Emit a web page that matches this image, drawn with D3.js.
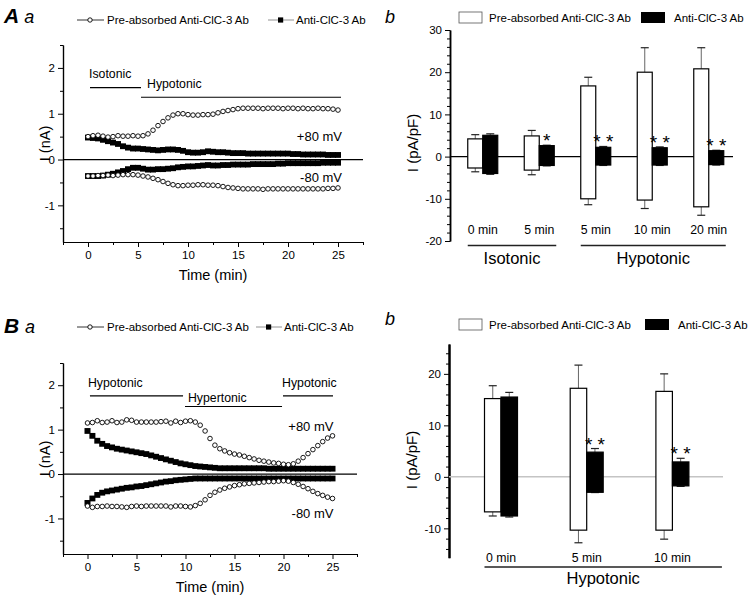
<!DOCTYPE html>
<html><head><meta charset="utf-8">
<script src="https://cdn.jsdelivr.net/npm/d3@7"></script>
<style>
body{margin:0;background:#fff;}
svg{display:block;font-family:Arial,"Liberation Sans",Helvetica,sans-serif;}
</style></head><body>
<svg id="c" width="750" height="602"></svg>
<script>
// ---------- DATA ----------
const times = [0,0.5,1,1.5,2,2.5,3,3.5,4,4.5,5,5.5,6,6.5,7,7.5,8,8.5,9,9.5,10,10.5,11,11.5,12,12.5,13,13.5,14,14.5,15,15.5,16,16.5,17,17.5,18,18.5,19,19.5,20,20.5,21,21.5,22,22.5,23,23.5,24,24.5,25];

// Panel A a (nA)
const aPrePos = [0.50,0.52,0.53,0.51,0.49,0.50,0.52,0.51,0.51,0.52,0.51,0.52,
  0.56,0.64,0.74,0.83,0.91,0.97,1.00,1.00,
  0.98,0.97,0.97,0.98,0.98,0.99,1.02,1.05,1.07,1.09,
  1.11,1.12,1.12,1.12,1.12,1.11,1.12,1.12,1.12,1.11,1.12,1.12,1.11,1.12,1.11,1.11,1.12,1.11,1.11,1.10,1.08];
const aPreNeg = [-0.36,-0.36,-0.35,-0.35,-0.34,-0.35,-0.34,-0.33,-0.33,-0.33,-0.34,-0.36,
  -0.38,-0.41,-0.44,-0.48,-0.52,-0.55,-0.57,-0.57,
  -0.56,-0.56,-0.55,-0.55,-0.56,-0.56,-0.57,-0.59,-0.61,-0.62,
  -0.63,-0.64,-0.64,-0.64,-0.64,-0.65,-0.64,-0.64,-0.64,-0.64,-0.64,-0.64,-0.64,-0.64,-0.64,-0.64,-0.64,-0.64,-0.63,-0.63,-0.62];
const aAntiPos = [0.48,0.47,0.46,0.43,0.40,0.37,0.34,0.29,0.26,0.24,0.24,0.23,
  0.22,0.21,0.20,0.21,0.22,0.22,0.21,0.19,
  0.16,0.15,0.15,0.16,0.18,0.17,0.16,0.16,0.15,0.14,
  0.14,0.14,0.13,0.13,0.13,0.13,0.13,0.13,0.13,0.13,0.13,0.12,0.12,0.11,0.11,0.11,0.11,0.11,0.10,0.10,0.10];
const aAntiNeg = [-0.36,-0.36,-0.36,-0.35,-0.33,-0.31,-0.28,-0.25,-0.21,-0.18,-0.18,-0.20,
  -0.22,-0.22,-0.21,-0.21,-0.20,-0.19,-0.17,-0.16,
  -0.15,-0.15,-0.14,-0.13,-0.12,-0.13,-0.13,-0.12,-0.12,-0.11,
  -0.11,-0.11,-0.11,-0.10,-0.10,-0.10,-0.10,-0.10,-0.09,-0.09,-0.08,-0.08,-0.08,-0.08,-0.08,-0.08,-0.08,-0.07,-0.07,-0.07,-0.07];

// Panel B a (nA)
const bPrePos = [1.15,1.16,1.20,1.16,1.17,1.20,1.16,1.17,1.22,1.21,1.17,1.17,
  1.17,1.17,1.17,1.18,1.19,1.15,1.19,1.16,1.19,1.20,
  1.17,1.10,0.97,0.80,0.65,0.57,0.52,0.48,0.45,0.43,
  0.40,0.37,0.34,0.31,0.29,0.27,0.25,0.24,0.22,0.21,
  0.23,0.29,0.37,0.46,0.55,0.64,0.73,0.81,0.86];
const bPreNeg = [-0.72,-0.75,-0.73,-0.73,-0.72,-0.73,-0.73,-0.74,-0.75,-0.73,-0.72,-0.73,
  -0.72,-0.72,-0.72,-0.72,-0.72,-0.74,-0.72,-0.72,-0.73,-0.74,
  -0.71,-0.66,-0.58,-0.48,-0.41,-0.36,-0.32,-0.29,-0.26,-0.24,
  -0.22,-0.21,-0.20,-0.19,-0.18,-0.17,-0.17,-0.16,-0.15,-0.16,
  -0.19,-0.23,-0.28,-0.33,-0.39,-0.44,-0.48,-0.52,-0.55];
const bAntiPos = [0.97,0.86,0.75,0.68,0.63,0.60,0.57,0.55,0.53,0.51,0.49,0.47,
  0.45,0.42,0.39,0.36,0.33,0.30,0.27,0.24,0.22,0.20,
  0.18,0.17,0.16,0.15,0.14,0.13,0.13,0.13,0.13,0.13,
  0.13,0.13,0.13,0.13,0.13,0.12,0.12,0.12,0.12,0.12,
  0.12,0.12,0.12,0.12,0.12,0.12,0.12,0.12,0.12];
const bAntiNeg = [-0.65,-0.55,-0.47,-0.42,-0.39,-0.37,-0.35,-0.33,-0.31,-0.30,-0.28,-0.27,
  -0.25,-0.23,-0.21,-0.19,-0.17,-0.16,-0.14,-0.13,-0.12,-0.11,
  -0.10,-0.10,-0.10,-0.10,-0.10,-0.10,-0.10,-0.10,-0.10,-0.10,
  -0.10,-0.10,-0.10,-0.10,-0.10,-0.10,-0.10,-0.10,-0.10,-0.10,
  -0.10,-0.10,-0.10,-0.10,-0.10,-0.10,-0.10,-0.10,-0.10];

// Solution phases [label, start min, end min]
const aPhases = [["Isotonic",0.2,5.3],["Hypotonic",5.3,25.3]];
const bPhases = [["Hypotonic",0.25,9.75],["Hypertonic",9.95,19.85],["Hypotonic",19.95,25.05]];

const timeTicks = [0,5,10,15,20,25];
const currentTicks = [-1,0,1,2];
const legendNames = ["Pre-absorbed Anti-ClC-3 Ab","Anti-ClC-3 Ab"];

// Panel A b (pA/pF) — floating bars: +80 mV top, -80 mV bottom, with SEM
const abGroups = ["0 min","5 min","5 min","10 min","20 min"];
const abPreTop  = [4.2, 4.9, 16.75, 20.0, 20.8];
const abPreTopSem = [1.0, 1.3, 2.05, 5.8, 5.0];
const abPreBot  = [-2.7, -3.2, -10.0, -10.3, -11.9];
const abPreBotSem = [0.9, 1.1, 1.4, 2.0, 2.0];
const abAntiTop = [5.05, 2.6, 2.2, 2.1, 1.4];
const abAntiTopSem = [0.35, 0.1, 0.2, 0.2, 0.1];
const abAntiBot = [-4.0, -2.1, -2.0, -2.0, -1.9];
const abAntiBotSem = [0.2, 0.1, 0.1, 0.1, 0.1];
const abStars = ["", "*", "* *", "* *", "* *"];
const abBrackets = [["Isotonic",0,1],["Hypotonic",2,4]];
const abTicks = [-20,-10,0,10,20,30];

// Panel B b (pA/pF)
const bbGroups = ["0 min","5 min","10 min"];
const bbPreTop  = [15.2, 17.2, 16.6];
const bbPreTopSem = [2.5, 4.5, 3.4];
const bbPreBot  = [-6.8, -10.35, -10.35];
const bbPreBotSem = [0.8, 2.45, 1.75];
const bbAntiTop = [15.5, 4.8, 2.9];
const bbAntiTopSem = [0.9, 0.7, 0.7];
const bbAntiBot = [-7.6, -3.0, -1.75];
const bbAntiBotSem = [0.2, 0.05, 0.1];
const bbStars = ["", "* *", "* *"];
const bbBrackets = [["Hypotonic",0,2]];
const bbTicks = [-10,0,10,20];

// ---------- DRAWING ----------
const svg = d3.select("#c");

function styleAxis(sel, w) {
  sel.select(".domain").attr("stroke", "#000").attr("stroke-width", w || 1.2);
  sel.selectAll(".tick line").attr("stroke", "#000").attr("stroke-width", 1);
  sel.selectAll(".tick text").attr("fill", "#000").attr("font-family", null);
  sel.attr("font-family", null);
}

function title(x, y, big, small) {
  const t = svg.append("text").attr("x", x).attr("y", y);
  if (big) t.append("tspan").attr("font-size", 21).attr("font-weight", "bold").attr("font-style", "italic").text(big + " ");
  t.append("tspan").attr("font-size", 18).attr("font-style", "italic").text(small);
}

function timePanel(o) {
  const g = svg.append("g");
  const x = d3.scaleLinear().domain([-2.5, 27.5]).range([o.left, o.right]);
  const y = d3.scaleLinear().domain([-1.8, 2.5]).range([o.bottom, o.top]);

  // axes
  g.append("g").attr("transform", `translate(${o.left},0)`)
    .call(d3.axisLeft(y).tickValues([-1.5,-0.5,0.5,1.5,2.5]).tickSize(3).tickSizeOuter(0).tickFormat(""))
    .call(s => styleAxis(s));
  g.append("g").attr("transform", `translate(${o.left},0)`)
    .call(d3.axisLeft(y).tickValues(currentTicks).tickSize(5).tickSizeOuter(0).tickPadding(3).tickFormat(d => String(d)))
    .attr("font-size", 11.5).call(s => styleAxis(s));
  g.append("g").attr("transform", `translate(0,${o.bottom})`)
    .call(d3.axisBottom(x).tickValues([-2.5,2.5,7.5,12.5,17.5,22.5,27.5]).tickSize(3).tickSizeOuter(0).tickFormat(""))
    .call(s => styleAxis(s));
  g.append("g").attr("transform", `translate(0,${o.bottom})`)
    .call(d3.axisBottom(x).tickValues(timeTicks).tickSize(5).tickSizeOuter(0).tickPadding(4).tickFormat(d => String(d)))
    .attr("font-size", 11.5).call(s => styleAxis(s));

  // zero line
  g.append("line").attr("x1", x(-2.5)).attr("x2", x(27.5)).attr("y1", y(0)).attr("y2", y(0))
    .attr("stroke", "#000").attr("stroke-width", 1.3);

  // axis titles
  g.append("text").attr("x", (x(-2.5) + x(27.5)) / 2).attr("y", o.bottom + 38)
    .attr("text-anchor", "middle").attr("font-size", 14.5).text("Time (min)");
  g.append("text").attr("transform", `translate(${o.left - 13},${y(0.35)}) rotate(-90)`)
    .attr("text-anchor", "middle").attr("font-size", 14.5).text("I (nA)");

  // series: anti (filled squares) then pre (open circles)
  [o.antiPos, o.antiNeg].forEach(vals => {
    g.append("g").selectAll("rect").data(vals).join("rect")
      .attr("x", (d, i) => x(times[i]) - 3).attr("y", d => y(d) - 2.9)
      .attr("width", 6).attr("height", 5.8).attr("fill", "#000");
  });
  [o.prePos, o.preNeg].forEach(vals => {
    g.append("g").selectAll("circle").data(vals).join("circle")
      .attr("cx", (d, i) => x(times[i])).attr("cy", d => y(d)).attr("r", 2.3)
      .attr("fill", "#fff").attr("stroke", "#000").attr("stroke-width", 0.9);
  });

  // phases
  o.phases.forEach((p, i) => {
    const r = o.phaseRows[i];
    g.append("line").attr("x1", x(p[1])).attr("x2", x(p[2])).attr("y1", y(r.line)).attr("y2", y(r.line))
      .attr("stroke", "#000").attr("stroke-width", 1.1);
    g.append("text").attr("x", x(r.tx)).attr("y", y(r.text)).attr("font-size", 12.3).text(p[0]);
  });

  // voltage labels
  g.append("text").attr("x", x(o.vx)).attr("y", y(o.vPos)).attr("text-anchor", "end").attr("font-size", 13).text("+80 mV");
  g.append("text").attr("x", x(o.vx)).attr("y", y(o.vNeg)).attr("text-anchor", "end").attr("font-size", 13).text("-80 mV");

  // legend
  const ly = o.legendY;
  const lg = g.append("g");
  lg.append("line").attr("x1", 77).attr("x2", 104).attr("y1", ly).attr("y2", ly).attr("stroke", "#000").attr("stroke-width", 0.8);
  lg.append("circle").attr("cx", 90).attr("cy", ly).attr("r", 2.2).attr("fill", "#fff").attr("stroke", "#000").attr("stroke-width", 0.9);
  lg.append("text").attr("x", 107).attr("y", ly + 4).attr("font-size", 11.5).text(legendNames[0]);
  lg.append("line").attr("x1", o.leg2).attr("x2", o.leg2 + 26).attr("y1", ly).attr("y2", ly).attr("stroke", "#777").attr("stroke-width", 0.8);
  lg.append("rect").attr("x", o.leg2 + 10).attr("y", ly - 2.6).attr("width", 5.2).attr("height", 5.2).attr("fill", "#000");
  lg.append("text").attr("x", o.leg2 + 28).attr("y", ly + 4).attr("font-size", 11.5).text(legendNames[1]);
}

function barPanel(o) {
  const g = svg.append("g");
  const y = d3.scaleLinear().domain(o.yDomain).range([o.bottom, o.top]);
  const x = d3.scaleBand().domain(d3.range(o.groups.length)).range([o.bandL, o.bandR]);
  const cx = i => x(i) + x.bandwidth() / 2;
  const bw = o.bw;

  // axis
  const minors = d3.range(Math.ceil(o.yDomain[0] / 2) * 2, o.yDomain[1], 2).filter(v => v % 10 !== 0);
  g.append("g").attr("transform", `translate(${o.axisX},0)`)
    .call(d3.axisLeft(y).tickValues(minors).tickSize(3).tickSizeOuter(0).tickFormat(""))
    .call(s => styleAxis(s, o.axisW));
  g.append("g").attr("transform", `translate(${o.axisX},0)`)
    .call(d3.axisLeft(y).tickValues(o.ticks).tickSize(5).tickSizeOuter(0).tickPadding(3).tickFormat(d => String(d)))
    .attr("font-size", 11.5).call(s => styleAxis(s, o.axisW));

  g.append("text").attr("transform", `translate(${o.axisX - 32},${o.labelY}) rotate(-90)`)
    .attr("text-anchor", "middle").attr("font-size", 15).text("I (pA/pF)");

  // zero line
  g.append("line").attr("x1", o.axisX).attr("x2", o.zeroEnd).attr("y1", y(0)).attr("y2", y(0))
    .attr("stroke", o.zeroColor).attr("stroke-width", o.zeroW);

  const series = [
    {top: o.preTop, topSem: o.preTopSem, bot: o.preBot, botSem: o.preBotSem, fill: "#fff", off: -bw},
    {top: o.antiTop, topSem: o.antiTopSem, bot: o.antiBot, botSem: o.antiBotSem, fill: "#000", off: 0}
  ];
  series.forEach(s => {
    o.groups.forEach((gname, i) => {
      const x0 = cx(i) + s.off, xm = x0 + bw / 2;
      // error bars
      const eTop = y(s.top[i] + s.topSem[i]), eBot = y(s.bot[i] - s.botSem[i]);
      g.append("line").attr("x1", xm).attr("x2", xm).attr("y1", y(s.top[i])).attr("y2", eTop).attr("stroke", "#666").attr("stroke-width", 1);
      g.append("line").attr("x1", xm - 4).attr("x2", xm + 4).attr("y1", eTop).attr("y2", eTop).attr("stroke", "#222").attr("stroke-width", 1.2);
      g.append("line").attr("x1", xm).attr("x2", xm).attr("y1", y(s.bot[i])).attr("y2", eBot).attr("stroke", "#666").attr("stroke-width", 1);
      g.append("line").attr("x1", xm - 4).attr("x2", xm + 4).attr("y1", eBot).attr("y2", eBot).attr("stroke", "#222").attr("stroke-width", 1.2);
      g.append("rect").attr("x", x0).attr("y", y(s.top[i])).attr("width", bw)
        .attr("height", y(s.bot[i]) - y(s.top[i])).attr("fill", s.fill).attr("stroke", "#000").attr("stroke-width", 1.2);
    });
  });

  // significance stars
  o.stars.forEach((st, i) => {
    if (!st) return;
    const yc = y(o.antiTop[i] + o.antiTopSem[i]) - 9;
    g.append("text").attr("x", cx(i) + bw / 2).attr("y", yc + 11).attr("text-anchor", "middle")
      .attr("font-size", 19).text(st);
  });

  // group labels
  o.groups.forEach((gname, i) => {
    g.append("text").attr("x", cx(i)).attr("y", o.groupLabelY).attr("text-anchor", "middle").attr("font-size", 12.3).text(gname);
  });

  // brackets
  o.brackets.forEach(b => {
    const xa = cx(b[1]) - bw - o.brPadL, xb = cx(b[2]) + bw + o.brPadR;
    g.append("line").attr("x1", xa).attr("x2", xb).attr("y1", o.bracketY).attr("y2", o.bracketY)
      .attr("stroke", "#222").attr("stroke-width", 1.6);
    g.append("text").attr("x", (xa + xb) / 2).attr("y", o.bracketY + o.brTextDy).attr("text-anchor", "middle")
      .attr("font-size", 16.5).text(b[0]);
  });

  // legend
  const ly = o.legendY;
  g.append("rect").attr("x", 459).attr("y", ly).attr("width", 23).attr("height", 11).attr("fill", "#fff").attr("stroke", "#555").attr("stroke-width", 0.8);
  g.append("text").attr("x", 489).attr("y", ly + 10).attr("font-size", 11.5).text(legendNames[0]);
  g.append("rect").attr("x", o.leg2).attr("y", ly).attr("width", 24).attr("height", 11).attr("fill", "#000");
  g.append("text").attr("x", o.leg2 + 33).attr("y", ly + 10).attr("font-size", 11.5).text(legendNames[1]);
}

// Titles
title(4, 23, "A", "a");
title(385, 23, null, "b");
title(4, 333, "B", "a");
title(385, 325, null, "b");

timePanel({
  left: 63, right: 363, top: 45, bottom: 242,
  prePos: aPrePos, preNeg: aPreNeg, antiPos: aAntiPos, antiNeg: aAntiNeg,
  phases: aPhases,
  phaseRows: [{line: 1.57, text: 1.78, tx: 0.1}, {line: 1.36, text: 1.57, tx: 5.9}],
  vx: 25.4, vPos: 0.4, vNeg: -0.5,
  legendY: 20, leg2: 268
});

timePanel({
  left: 63, right: 357, top: 363, bottom: 554,
  prePos: bPrePos, preNeg: bPreNeg, antiPos: bAntiPos, antiNeg: bAntiNeg,
  phases: bPhases,
  phaseRows: [{line: 1.76, text: 1.97, tx: 0.05}, {line: 1.52, text: 1.63, tx: 10.25}, {line: 1.76, text: 1.97, tx: 19.85}],
  vx: 25.1, vPos: 0.97, vNeg: -0.98,
  legendY: 327, leg2: 256
});

barPanel({
  yDomain: [-20, 30], top: 30, bottom: 241, axisX: 450, axisW: 1.5,
  bandL: 454.5, bandR: 737, bw: 15,
  groups: abGroups, ticks: abTicks,
  preTop: abPreTop, preTopSem: abPreTopSem, preBot: abPreBot, preBotSem: abPreBotSem,
  antiTop: abAntiTop, antiTopSem: abAntiTopSem, antiBot: abAntiBot, antiBotSem: abAntiBotSem,
  stars: abStars, brackets: abBrackets,
  zeroEnd: 733, zeroColor: "#000", zeroW: 1.2,
  groupLabelY: 234, bracketY: 245.5, brPadL: 0, brPadR: 2, brTextDy: 18,
  labelY: 143, legendY: 12, leg2: 641
});

barPanel({
  yDomain: [-15.7, 25.8], top: 344, bottom: 557.7, axisX: 449, axisW: 2,
  bandL: 458.15, bandR: 715.25, bw: 16.5,
  groups: bbGroups, ticks: bbTicks,
  preTop: bbPreTop, preTopSem: bbPreTopSem, preBot: bbPreBot, preBotSem: bbPreBotSem,
  antiTop: bbAntiTop, antiTopSem: bbAntiTopSem, antiBot: bbAntiBot, antiBotSem: bbAntiBotSem,
  stars: bbStars, brackets: bbBrackets,
  zeroEnd: 723, zeroColor: "#c4c4c4", zeroW: 1.5,
  groupLabelY: 562, bracketY: 567, brPadL: 0, brPadR: 33, brTextDy: 17,
  labelY: 460, legendY: 319, leg2: 645
});
</script>
</body></html>
